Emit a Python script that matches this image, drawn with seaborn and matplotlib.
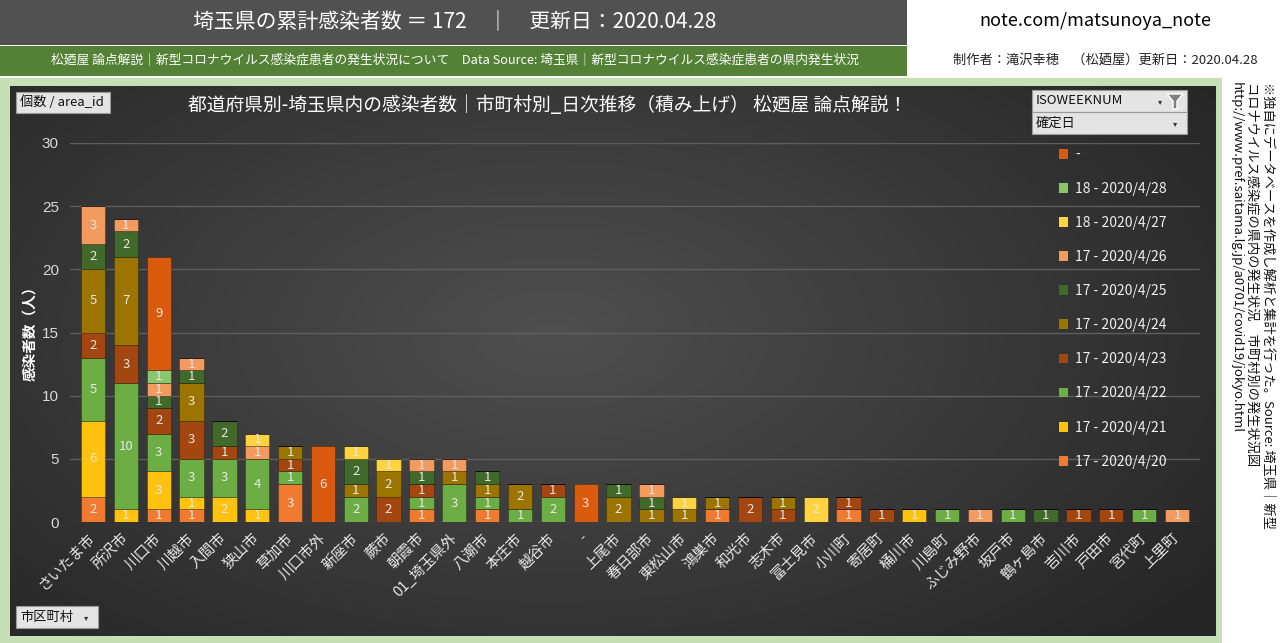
import numpy as np
import pandas as pd
import seaborn as sns
import matplotlib.pyplot as plt
from matplotlib.patches import Rectangle, Patch, Polygon

W, H = 1280, 643

cities = ['さいたま市', '所沢市', '川口市', '川越市', '入間市', '狭山市', '草加市', '川口市外',
          '新座市', '蕨市', '朝霞市', '01_埼玉県外', '八潮市', '本庄市', '越谷市', '-',
          '上尾市', '春日部市', '東松山市', '鴻巣市', '和光市', '志木市', '富士見市', '小川町',
          '寄居町', '桶川市', '川島町', 'ふじみ野市', '坂戸市', '鶴ヶ島市', '吉川市', '戸田市',
          '宮代町', '上里町']

# legend order (top of stack first)
dates = ['-', '18 - 2020/4/28', '18 - 2020/4/27', '17 - 2020/4/26', '17 - 2020/4/25',
         '17 - 2020/4/24', '17 - 2020/4/23', '17 - 2020/4/22', '17 - 2020/4/21', '17 - 2020/4/20']

# counts per city, one list per confirmed date
n_unknown = [0, 0, 9, 0, 0, 0, 0, 6, 0, 0, 0, 0, 0, 0, 0, 3, 0, 0, 0, 0, 0, 0, 0, 0, 0, 0, 0, 0, 0, 0, 0, 0, 0, 0]
n_0428 =    [0, 0, 1, 0, 0, 0, 0, 0, 0, 0, 0, 0, 0, 0, 0, 0, 0, 0, 0, 0, 0, 0, 0, 0, 0, 0, 0, 0, 0, 0, 0, 0, 0, 0]
n_0427 =    [0, 0, 0, 0, 0, 1, 0, 0, 1, 1, 0, 0, 0, 0, 0, 0, 0, 0, 1, 0, 0, 0, 2, 0, 0, 0, 0, 0, 0, 0, 0, 0, 0, 0]
n_0426 =    [3, 1, 1, 1, 0, 1, 0, 0, 0, 0, 1, 1, 0, 0, 0, 0, 0, 1, 0, 0, 0, 0, 0, 0, 0, 0, 0, 1, 0, 0, 0, 0, 0, 1]
n_0425 =    [2, 2, 1, 1, 2, 0, 0, 0, 2, 0, 1, 0, 1, 0, 0, 0, 1, 1, 0, 0, 0, 0, 0, 0, 0, 0, 0, 0, 0, 1, 0, 0, 0, 0]
n_0424 =    [5, 7, 0, 3, 0, 0, 1, 0, 1, 2, 0, 1, 1, 2, 0, 0, 2, 1, 1, 1, 0, 1, 0, 0, 0, 0, 0, 0, 0, 0, 0, 0, 0, 0]
n_0423 =    [2, 3, 2, 3, 1, 0, 1, 0, 0, 2, 1, 0, 0, 0, 1, 0, 0, 0, 0, 0, 2, 1, 0, 1, 1, 0, 0, 0, 0, 0, 1, 1, 0, 0]
n_0422 =    [5, 10, 3, 3, 3, 4, 1, 0, 2, 0, 1, 3, 1, 1, 2, 0, 0, 0, 0, 0, 0, 0, 0, 0, 0, 0, 1, 0, 1, 0, 0, 0, 1, 0]
n_0421 =    [6, 1, 3, 1, 2, 1, 0, 0, 0, 0, 0, 0, 0, 0, 0, 0, 0, 0, 0, 0, 0, 0, 0, 0, 0, 1, 0, 0, 0, 0, 0, 0, 0, 0]
n_0420 =    [2, 0, 1, 1, 0, 0, 3, 0, 0, 0, 1, 0, 1, 0, 0, 0, 0, 0, 0, 1, 0, 0, 0, 1, 0, 0, 0, 0, 0, 0, 0, 0, 0, 0]

series = [n_unknown, n_0428, n_0427, n_0426, n_0425, n_0424, n_0423, n_0422, n_0421, n_0420]
colors = ['#DA5A0E', '#8CC66A', '#FFD23F', '#F39A5E', '#41692A',
          '#9C7400', '#A3460F', '#6DAE44', '#FFC20E', '#F07B30']

rows = []
for d, vals in zip(dates, series):
    for i, v in enumerate(vals):
        if v > 0:
            rows.append({'pos': i, 'date': d, 'count': v})
df = pd.DataFrame(rows)

sns.set_style('white')
plt.rcParams['font.family'] = ['Noto Sans CJK JP', 'DejaVu Sans']

fig = plt.figure(figsize=(12.8, 6.43), dpi=100)
fig.patch.set_facecolor('white')


def rect(x0, y0, x1, y1, color, z=0, ec='none', lw=0):
    r = Rectangle((x0 / W, 1 - y1 / H), (x1 - x0) / W, (y1 - y0) / H, transform=fig.transFigure,
                  facecolor=color, edgecolor=ec, lw=lw, zorder=z)
    fig.add_artist(r)
    return r


def ftext(x, y, s, **kw):
    return fig.text(x / W, 1 - y / H, s, **kw)


# header
rect(0, 0, 907, 45, '#515151')
rect(0, 46, 907, 76, '#538135')
ftext(455, 21, '埼玉県の累計感染者数 ＝ 172　｜　更新日：2020.04.28', color='white',
      fontsize=15, ha='center', va='center')
ftext(455, 60, '松廼屋 論点解説｜新型コロナウイルス感染症患者の発生状況について　Data Source: 埼玉県｜新型コロナウイルス感染症患者の県内発生状況',
      color='white', fontsize=9.2, ha='center', va='center')
ftext(1095, 21, 'note.com/matsunoya_note', color='black', fontsize=13, ha='center', va='center')
ftext(1105, 60, '制作者：滝沢幸穂　（松廼屋）更新日：2020.04.28', color='#222222', fontsize=9.5,
      ha='center', va='center')

# frame
rect(0, 78, 1222, 643, '#C5E0B4')

# dark panel with gradient
bg = fig.add_axes([10 / W, 1 - 636 / H, 1206 / W, 550 / H])
yy, xx = np.mgrid[0:1:200j, 0:1:400j]
dist = np.sqrt(((xx - 0.45) * 1.2) ** 2 + ((yy - 0.45) * 1.0) ** 2)
shade = np.clip(1 - dist / 0.8, 0, 1)
lo, hi = np.array([0.15, 0.15, 0.15]), np.array([0.31, 0.31, 0.31])
img = lo + (hi - lo) * shade[..., None]
bg.imshow(img, aspect='auto', extent=(0, 1, 0, 1))
bg.set_axis_off()

# main chart
ax = fig.add_axes([70 / W, 1 - 522 / H, 1130 / W, 379 / H])
ax.patch.set_alpha(0)
sns.histplot(data=df, x='pos', weights='count', hue='date', hue_order=dates,
             multiple='stack', discrete=True, shrink=0.74, palette=colors, alpha=1,
             edgecolor=(0, 0, 0, 0.3), linewidth=0.6, legend=False, ax=ax)

for cont in ax.containers:
    labels = [f'{int(round(b.get_height()))}' if b.get_height() > 0 else '' for b in cont]
    ax.bar_label(cont, labels=labels, label_type='center', color='#E6E6E6', fontsize=9.5)

ax.set_xlim(-0.7, 33.7)
ax.set_ylim(0, 30)
ax.set_yticks(range(0, 31, 5))
ax.set_xticks(range(len(cities)))
ax.set_xticklabels(cities, rotation=45, ha='right', va='center', rotation_mode='anchor',
                   color='#E8E8E8', fontsize=10.5)
ax.tick_params(axis='y', length=0, pad=8, labelcolor='#D9D9D9', labelsize=11)
ax.tick_params(axis='x', length=0, pad=10)
for lab in ax.get_yticklabels():
    lab.set_fontfamily(['Liberation Sans', 'DejaVu Sans'])
ax.grid(axis='y', color='#5E5E5E', lw=1)
ax.set_axisbelow(True)
ax.set_xlabel('')
ax.set_ylabel('')
for sp in ax.spines.values():
    sp.set_visible(False)

ftext(29, 330, '感染者数（人）', rotation=90, color='white', fontsize=10.5, weight='bold',
      ha='center', va='center')
ftext(548, 105, '都道府県別-埼玉県内の感染者数｜市町村別_日次推移（積み上げ） 松廼屋 論点解説！',
      color='white', fontsize=13.5, ha='center', va='center')

# legend
handles = [Patch(facecolor=c, edgecolor='none') for c in colors]
fig.legend(handles, dates, loc='upper left', bbox_to_anchor=(1046 / W, 1 - 135 / H),
           frameon=False, labelcolor='#F0F0F0', fontsize=10, handlelength=0.7,
           handleheight=0.7, handletextpad=0.5, labelspacing=1.45)


# buttons
def button(x0, y0, x1, y1, label, arrow=True, funnel=False):
    rect(x0, y0, x1, y1, '#E4E4E4', z=5, ec='#9A9A9A', lw=0.8)
    ftext(x0 + 4, (y0 + y1) / 2, label, color='#111111', fontsize=9.5, ha='left',
          va='center', zorder=6)
    if arrow:
        ax_x = x1 - 12 if not funnel else x1 - 27
        ftext(ax_x, (y0 + y1) / 2 + 1, '▾', color='#333333', fontsize=6, ha='center',
              va='center', zorder=6)
    if funnel:
        pts = [(x1 - 20, y0 + 4), (x1 - 4, y0 + 4), (x1 - 10, y0 + 11), (x1 - 10, y1 - 3),
               (x1 - 14, y1 - 3), (x1 - 14, y0 + 11)]
        fig.add_artist(Polygon([(px / W, 1 - py / H) for px, py in pts], closed=True,
                               transform=fig.transFigure, facecolor='#7F7F7F', zorder=6))


button(16, 92, 110, 113, '個数 / area_id', arrow=False)
button(1032, 90, 1187, 112, 'ISOWEEKNUM', funnel=True)
button(1032, 112, 1187, 134, '確定日')
button(16, 606, 98, 628, '市区町村')

# side notes
side = ['※独自にデータベースを作成し解析と集計を行った。Source: 埼玉県｜新型',
        'コロナウイルス感染症の県内の発生状況　市町村別の発生状況図',
        'http://www.pref.saitama.lg.jp/a0701/covid19/jokyo.html']
for xpos, s in zip([1268, 1252, 1236], side):
    ftext(xpos, 82, s, rotation=-90, rotation_mode='anchor', ha='left', va='center',
          color='#111111', fontsize=9.5)

fig.savefig('out.png', dpi=100)
